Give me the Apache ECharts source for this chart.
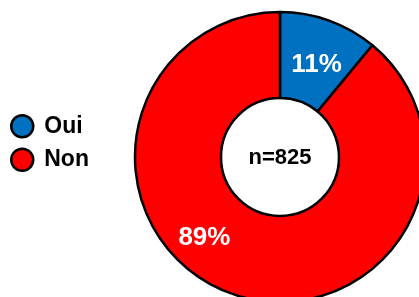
<!DOCTYPE html>
<html>
<head>
<meta charset="utf-8">
<script src="https://cdn.jsdelivr.net/npm/echarts@6/dist/echarts.min.js"></script>
<style>
  html, body { margin: 0; padding: 0; background: #fff; }
  #chart { width: 419px; height: 297px; }
</style>
</head>
<body>
<div id="chart"></div>
<script>
// donnees
var categories = ['Oui', 'Non'];
var values = [11, 89];
var colors = ['#0070C0', '#FF0000'];
var total = 825;

var myChart = echarts.init(document.getElementById('chart'));

var FONT = '"Liberation Sans", Arial, sans-serif';

// the 89% label sits off the mid angle in the original
var labelOffsets = [[1, 7], [-40, -18]];

myChart.setOption({
    animation: false,
    legend: {
        orient: 'vertical',
        left: 10,
        top: 114,
        padding: 0,
        itemWidth: 22,
        itemHeight: 22,
        itemGap: 9,
        icon: 'circle',
        itemStyle: {
            borderColor: '#000',
            borderWidth: 2.5
        },
        textStyle: {
            fontFamily: FONT,
            fontWeight: 'bold',
            fontSize: 23,
            color: '#000',
            padding: [0, 0, 0, 6]
        },
        data: categories
    },
    // n= in the hole
    graphic: [{
        type: 'text',
        x: 280,
        y: 158,
        style: {
            text: 'n=' + total,
            align: 'center',
            verticalAlign: 'middle',
            fontFamily: FONT,
            fontWeight: 'bold',
            fontSize: 22,
            fill: '#000'
        }
    }],
    series: [{
        type: 'pie',
        center: [280, 157],
        radius: [59, 145],
        startAngle: 90,
        clockwise: true,
        silent: true,
        itemStyle: {
            borderColor: '#000',
            borderWidth: 2.5
        },
        label: {
            show: true,
            position: 'inside',
            formatter: '{c}%',
            fontFamily: FONT,
            fontWeight: 'bold',
            fontSize: 26,
            color: '#fff'
        },
        labelLine: { show: false },
        data: categories.map(function (name, i) {
            return {
                name: name,
                value: values[i],
                itemStyle: { color: colors[i] },
                label: { offset: labelOffsets[i] }
            };
        })
    }]
});
</script>
</body>
</html>
